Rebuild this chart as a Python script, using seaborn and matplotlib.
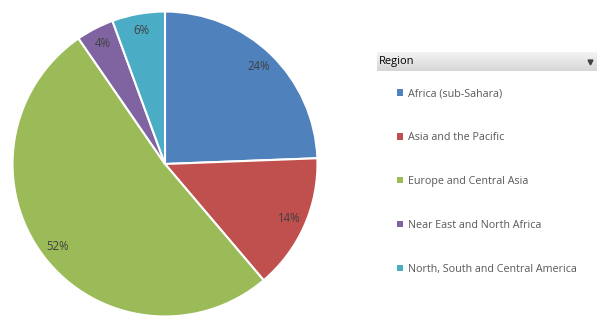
import matplotlib
matplotlib.use("Agg")
import matplotlib.pyplot as plt
from matplotlib.patches import Patch
import numpy as np
import seaborn as sns

regions = ["Africa (sub-Sahara)", "Asia and the Pacific", "Europe and Central Asia",
           "Near East and North Africa", "North, South and Central America"]
shares = [24.4, 14.4, 51.6, 4.0, 5.6]
colors = ["#4F81BD", "#C0504D", "#9BBB59", "#8064A2", "#4BACC6"]
legend_title = "Region"

sns.set_style("white")
plt.rcParams["font.family"] = ["Open Sans", "DejaVu Sans"]
palette = sns.color_palette(colors)

W, H = 600, 328
fig = plt.figure(figsize=(W / 100, H / 100), dpi=100)
fig.patch.set_facecolor("white")

cx, cy, r = 165, 164, 154
ax = fig.add_axes([(cx - r) / W, (cy - r) / H, 2 * r / W, 2 * r / H])
wedges, texts, autotexts = ax.pie(
    shares, colors=palette, startangle=90, counterclock=False,
    autopct="%1.0f%%", pctdistance=0.89, radius=1,
    wedgeprops=dict(edgecolor="white", linewidth=1.5),
    textprops=dict(color="#404040", fontsize=8.3))
ax.set_xlim(-1.01, 1.01)
ax.set_ylim(-1.01, 1.01)
ax.set_aspect("equal")
ax.axis("off")

# header bar
hax = fig.add_axes([377 / W, 1 - 71 / H, 220 / W, 19 / H])
grad = np.linspace(0, 1, 50).reshape(-1, 1)
hax.imshow(grad, aspect="auto", cmap=matplotlib.colors.LinearSegmentedColormap.from_list(
    "g", ["#F4F4F4", "#D6D6D6"]), extent=[0, 1, 0, 1])
hax.set_xlim(0, 1)
hax.set_ylim(0, 1)
hax.axis("off")
hax.text(0.01, 0.5, legend_title, va="center", ha="left", fontsize=8, color="#000000")
hax.plot([0.97], [0.45], marker="v", markersize=3.5, color="#404040")

handles = [Patch(facecolor=c, edgecolor="none") for c in palette]
leg = fig.legend(handles, regions, loc="upper left", bbox_to_anchor=(397 / W, 1 - 88 / H),
                 frameon=False, fontsize=7.75, labelcolor="#595959",
                 handlelength=0.6, handleheight=0.6, handletextpad=0.45,
                 labelspacing=3.06, borderpad=0, borderaxespad=0)

fig.savefig("out.png", dpi=100, facecolor="white")
